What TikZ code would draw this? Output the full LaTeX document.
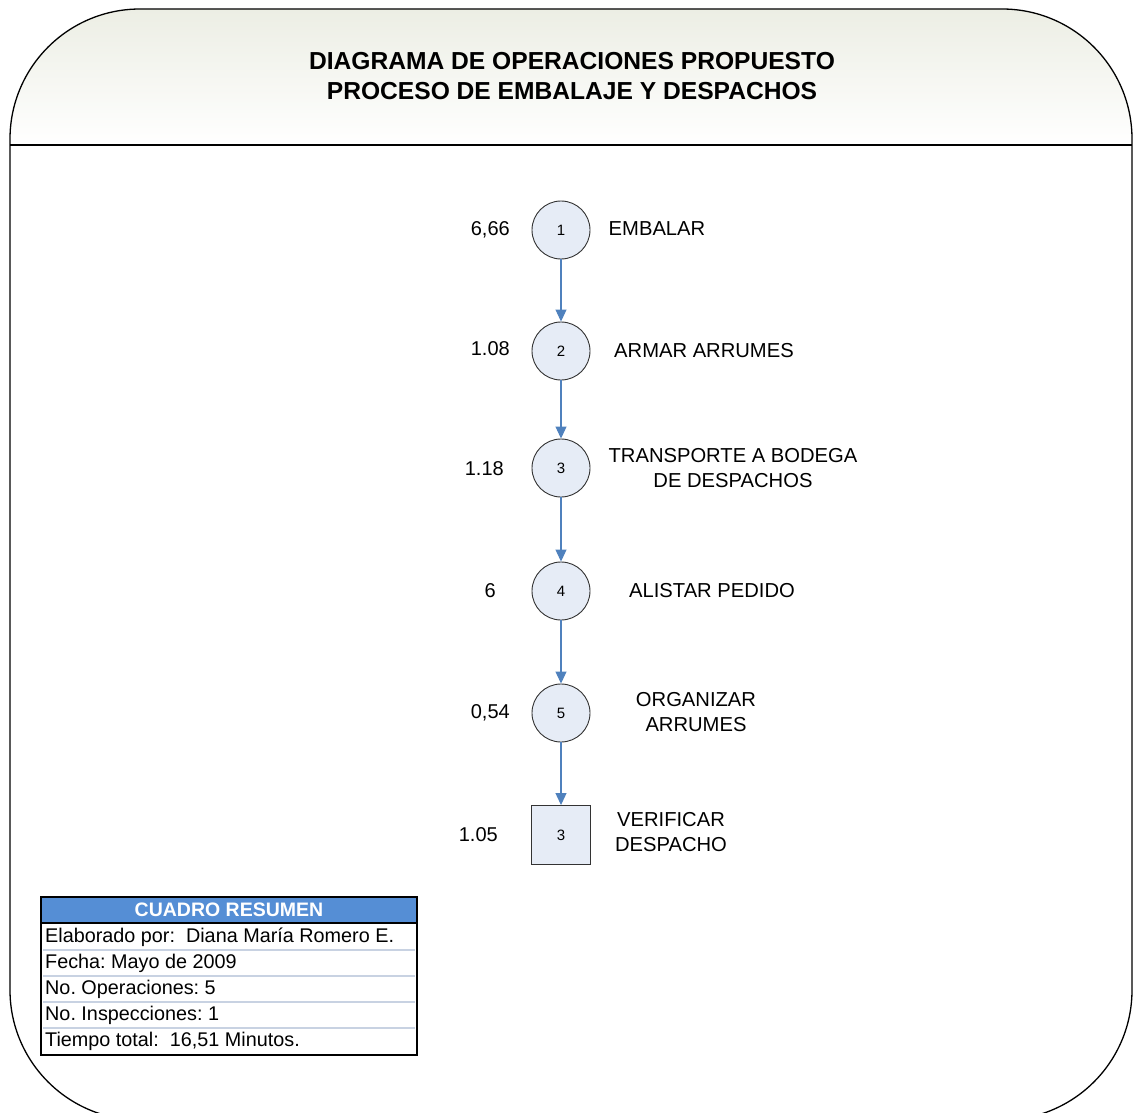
\documentclass[tikz,border=0pt]{standalone}
\usepackage{fontspec}
\setmainfont{Liberation Sans}
\usetikzlibrary{arrows.meta}
\frenchspacing
\definecolor{hdrtop}{RGB}{236,238,228}
\definecolor{opfill}{RGB}{230,236,246}
\definecolor{arrowblue}{RGB}{79,129,189}
\definecolor{tblblue}{RGB}{85,142,213}
\definecolor{rowline}{RGB}{200,210,226}
\tikzset{
  op/.style={circle,draw=black!80,line width=0.9pt,fill=opfill,minimum size=58pt,inner sep=0pt,font=\fontsize{15}{17}\selectfont},
  insp/.style={rectangle,draw=black!80,line width=0.9pt,fill=opfill,minimum size=59pt,inner sep=0pt,font=\fontsize{15}{17}\selectfont},
  flow/.style={draw=arrowblue,line width=1.1pt,-{Triangle[length=12pt,width=11pt]}},
  lbl/.style={font=\fontsize{20.2}{25}\selectfont,align=center,inner sep=0pt},
  tme/.style={font=\fontsize{20}{24}\selectfont,anchor=east,inner sep=0pt},
  rowtxt/.style={font=\fontsize{19.8}{22}\selectfont,anchor=west,inner sep=0pt},
}
\begin{document}
\begin{tikzpicture}[x=1pt,y=1pt]
\useasboundingbox (0,0) rectangle (1133,-1113);
\clip (0,0) rectangle (1133,-1113);
% header shading
\shade[top color=hdrtop,bottom color=white]
  (10,-145) -- (10,-139) arc[start angle=180,end angle=90,radius=130] -- (1002,-9)
  arc[start angle=90,end angle=0,radius=130] -- (1132,-145) -- cycle;
% outline
\draw[line width=1.3pt,rounded corners=130pt] (10,-9) rectangle (1132,-1120);
\draw[line width=1.3pt] (10,-145) -- (1132,-145);
% title
\node[font=\bfseries\fontsize{24.6}{30}\selectfont,align=center] (title) at (572,-76)
  {DIAGRAMA DE OPERACIONES PROPUESTO\\PROCESO DE EMBALAJE Y DESPACHOS};
% operations
\node[op] (o1) at (561,-230) {1};
\node[op] (o2) at (561,-351) {2};
\node[op] (o3) at (561,-468) {3};
\node[op] (o4) at (561,-591) {4};
\node[op] (o5) at (561,-713) {5};
\node[insp] (i3) at (561,-835) {3};
\draw[flow] (o1) -- (o2);
\draw[flow] (o2) -- (o3);
\draw[flow] (o3) -- (o4);
\draw[flow] (o4) -- (o5);
\draw[flow] (o5) -- (i3);
% times
\node[tme] (t1) at (510,-230) {6,66};
\node[tme] (t2) at (510,-349) {1.08};
\node[tme] (t3) at (504,-469) {1.18};
\node[tme] (t4) at (496,-591) {6};
\node[tme] (t5) at (510,-713) {0,54};
\node[tme] (t6) at (498,-835) {1.05};
% labels
\node[lbl] (l1) at (657,-229) {EMBALAR};
\node[lbl] (l2) at (704,-351) {ARMAR ARRUMES};
\node[lbl] (l3) at (733,-468) {TRANSPORTE A BODEGA\\DE DESPACHOS};
\node[lbl] (l4) at (712,-591) {ALISTAR PEDIDO};
\node[lbl] (l5) at (696,-712) {ORGANIZAR\\ARRUMES};
\node[lbl] (l6) at (671,-832) {VERIFICAR\\DESPACHO};
% summary table
\fill[tblblue] (41,-897) rectangle (417,-923);
\fill[white] (41,-923) rectangle (417,-1055);
\foreach \yy in {950,976,1002,1028}{
  \draw[rowline,line width=1.6pt] (43,-\yy) -- (415,-\yy);
}
\draw[line width=1.5pt] (41,-923) -- (417,-923);
\draw[line width=2.8pt] (41,-897) rectangle (417,-1055);
\node[font=\bfseries\fontsize{19.5}{22}\selectfont,text=white,inner sep=0pt] (th) at (229,-910) {CUADRO RESUMEN};
\node[rowtxt] (r1) at (45,-937) {Elaborado por:\ \ Diana María Romero E.};
\node[rowtxt] (r2) at (45,-963) {Fecha: Mayo de 2009};
\node[rowtxt] (r3) at (45,-989) {No. Operaciones: 5};
\node[rowtxt] (r4) at (45,-1015) {No. Inspecciones: 1};
\node[rowtxt] (r5) at (45,-1041) {Tiempo total:\ \ 16,51 Minutos.};
\end{tikzpicture}
\end{document}
